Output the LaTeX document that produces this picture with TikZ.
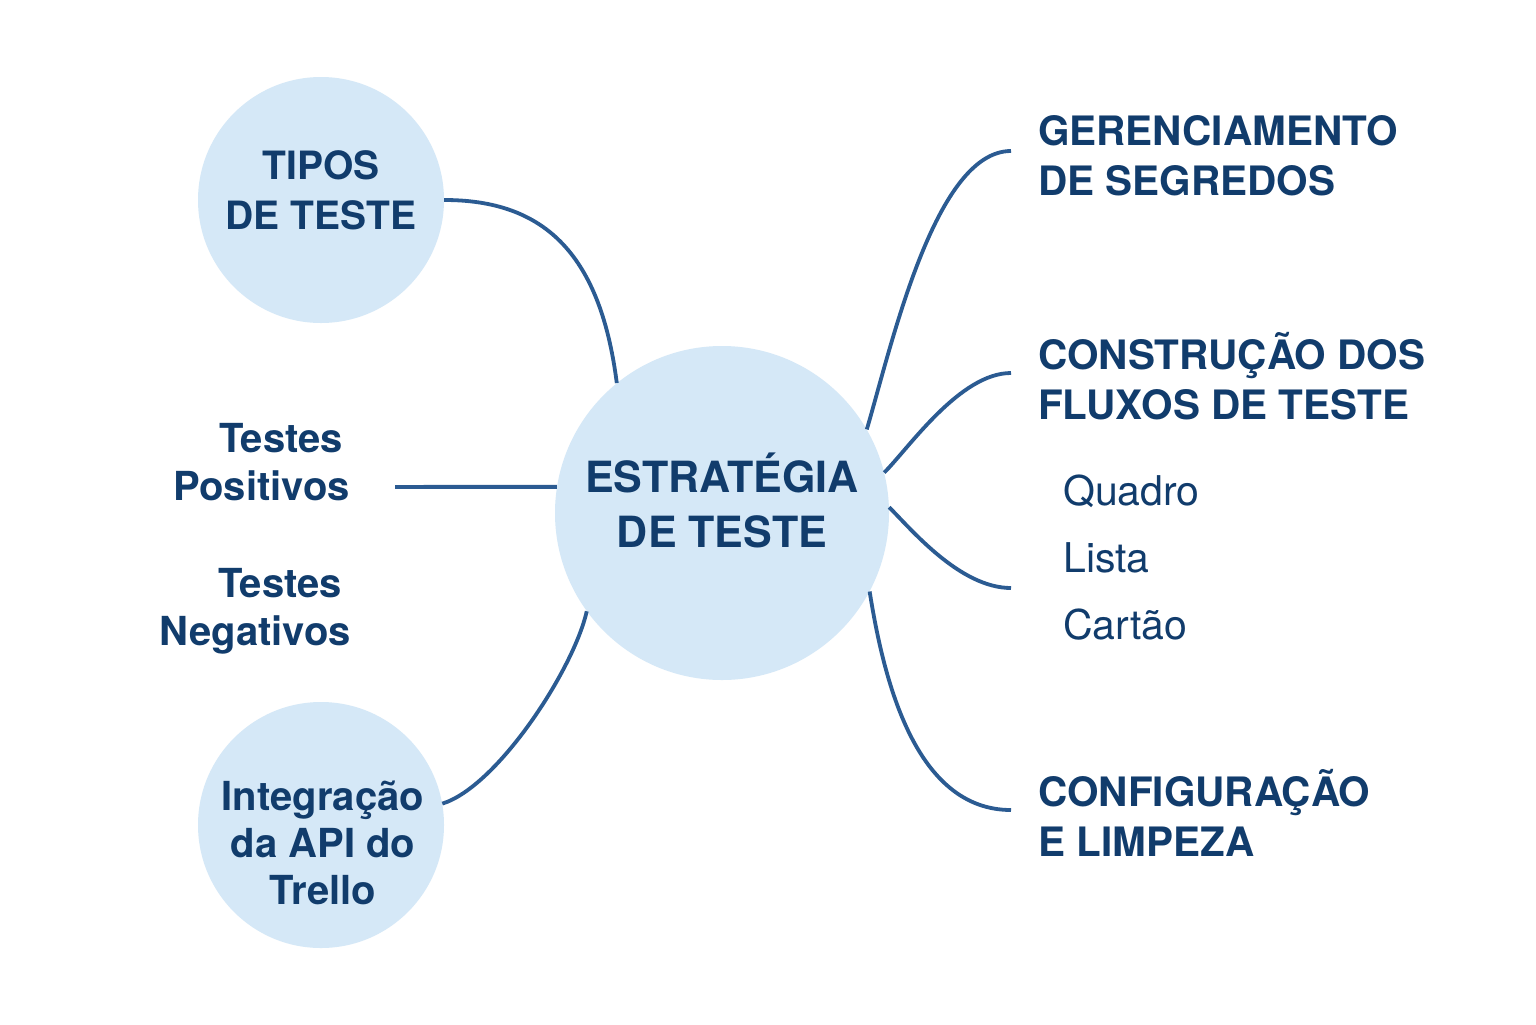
\documentclass[tikz,border=0pt]{standalone}
\usepackage{fontspec}
\setmainfont{TeX Gyre Heros}
\definecolor{navy}{HTML}{113C6C}
\definecolor{linkblue}{HTML}{2B5B92}
\definecolor{bubblefill}{HTML}{D5E8F7}
\begin{document}
\begin{tikzpicture}[x=1bp,y=-1bp,
  bubble/.style={circle,fill=bubblefill,inner sep=0pt},
  link/.style={draw=linkblue,line width=3.8bp},
  txt/.style={text=navy,inner sep=0pt},
  hfont/.style={font=\bfseries\fontsize{40.5bp}{50bp}\selectfont},
  tfont/.style={font=\bfseries\fontsize{39bp}{50bp}\selectfont},
  cfont/.style={font=\bfseries\fontsize{43bp}{55bp}\selectfont},
  lfont/.style={font=\bfseries\fontsize{40bp}{48bp}\selectfont},
  ifont/.style={font=\bfseries\fontsize{40bp}{47bp}\selectfont},
  sfont/.style={font=\fontsize{41bp}{46bp}\selectfont}]
\useasboundingbox (0,0) rectangle (1536,1024);
\fill[white] (0,0) rectangle (1536,1024);

\node[bubble,minimum size=334bp] (c) at (722,513) {};
\node[bubble,minimum size=246bp] (tipos) at (321,200) {};
\node[bubble,minimum size=246bp] (integ) at (321,825) {};

\coordinate (pl) at (395,486.9);
\coordinate (gend) at (1011,151);
\coordinate (cend) at (1011,373);
\coordinate (lend) at (1011,588);
\coordinate (fend) at (1011,810);

\draw[link] (tipos.east) .. controls +(97,0) and +(-17,-133) .. (c.129);
\draw[link] (pl) -- (c.171);
\draw[link] (integ.10) .. controls +(55,-17) and +(-13,58) .. (c.216);
\draw[link] (c.30) .. controls +(25,-85) and +(-76,0) .. (gend);
\draw[link] (c.14) .. controls +(25,-25) and +(-51,0) .. (cend);
\draw[link] (c.2) .. controls +(22,22) and +(-51,0) .. (lend);
\draw[link] (c.-28) .. controls +(14,88) and +(-96,0) .. (fend);

\node[txt,tfont,align=center] (tiposlbl) at (321,190) {TIPOS\\DE TESTE};
\node[txt,cfont,align=center] (estrlbl) at (722,500) {ESTRATÉGIA\\DE TESTE};
\node[txt,hfont,align=left,anchor=west] (ger) at (1038,156) {GERENCIAMENTO\\DE SEGREDOS};
\node[txt,hfont,align=left,anchor=west] (cons) at (1038,376) {CONSTRUÇÃO DOS\\FLUXOS DE TESTE};
\node[txt,sfont,anchor=base west] (quadro) at (1063,505) {Quadro};
\node[txt,sfont,anchor=base west] (lista) at (1063,572) {Lista};
\node[txt,sfont,anchor=base west] (cartao) at (1063,639) {Cartão};
\node[txt,hfont,align=left,anchor=west] (conf) at (1038,813) {CONFIGURAÇÃO\\E LIMPEZA};
\node[txt,lfont,align=right,anchor=east] (pos) at (350,462) {Testes\hspace*{7bp}\\Positivos};
\node[txt,lfont,align=right,anchor=east] (neg) at (351,611) {Testes\hspace*{9bp}\\Negativos};
\node[txt,ifont,align=center] (integlbl) at (323,843) {Integração\\da API do\\Trello};
\end{tikzpicture}
\end{document}
